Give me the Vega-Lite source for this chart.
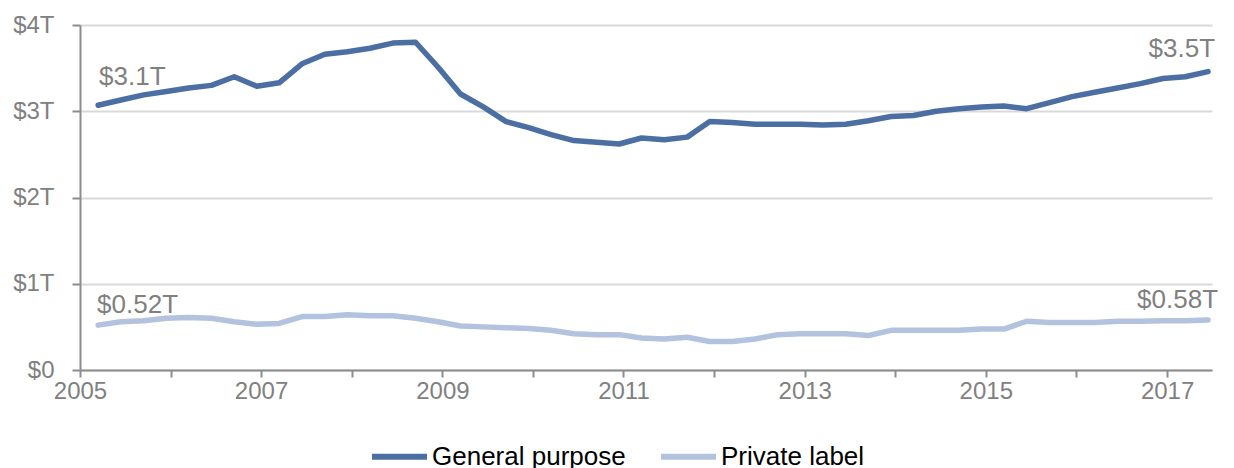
{
  "$schema": "https://vega.github.io/schema/vega-lite/v6.json",
  "width": 1132,
  "height": 345,
  "autosize": {"type": "none"},
  "padding": {"left": 80, "top": 25, "right": 22, "bottom": 98},
  "background": "white",
  "config": {
    "view": {"stroke": null},
    "font": "Liberation Sans",
    "text": {"font": "Liberation Sans"}
  },
  "data": {
    "values": [
      {"date": "2005-03-15", "series": "General purpose", "value": 3.07},
      {"date": "2005-06-15", "series": "General purpose", "value": 3.13},
      {"date": "2005-09-15", "series": "General purpose", "value": 3.19},
      {"date": "2005-12-15", "series": "General purpose", "value": 3.23},
      {"date": "2006-03-15", "series": "General purpose", "value": 3.27},
      {"date": "2006-06-15", "series": "General purpose", "value": 3.30},
      {"date": "2006-09-15", "series": "General purpose", "value": 3.40},
      {"date": "2006-12-15", "series": "General purpose", "value": 3.29},
      {"date": "2007-03-15", "series": "General purpose", "value": 3.33},
      {"date": "2007-06-15", "series": "General purpose", "value": 3.55},
      {"date": "2007-09-15", "series": "General purpose", "value": 3.66},
      {"date": "2007-12-15", "series": "General purpose", "value": 3.69},
      {"date": "2008-03-15", "series": "General purpose", "value": 3.73},
      {"date": "2008-06-15", "series": "General purpose", "value": 3.79},
      {"date": "2008-09-15", "series": "General purpose", "value": 3.80},
      {"date": "2008-12-15", "series": "General purpose", "value": 3.51},
      {"date": "2009-03-15", "series": "General purpose", "value": 3.20},
      {"date": "2009-06-15", "series": "General purpose", "value": 3.05},
      {"date": "2009-09-15", "series": "General purpose", "value": 2.88},
      {"date": "2009-12-15", "series": "General purpose", "value": 2.81},
      {"date": "2010-03-15", "series": "General purpose", "value": 2.73},
      {"date": "2010-06-15", "series": "General purpose", "value": 2.66},
      {"date": "2010-09-15", "series": "General purpose", "value": 2.64},
      {"date": "2010-12-15", "series": "General purpose", "value": 2.62},
      {"date": "2011-03-15", "series": "General purpose", "value": 2.69},
      {"date": "2011-06-15", "series": "General purpose", "value": 2.67},
      {"date": "2011-09-15", "series": "General purpose", "value": 2.70},
      {"date": "2011-12-15", "series": "General purpose", "value": 2.88},
      {"date": "2012-03-15", "series": "General purpose", "value": 2.87},
      {"date": "2012-06-15", "series": "General purpose", "value": 2.85},
      {"date": "2012-09-15", "series": "General purpose", "value": 2.85},
      {"date": "2012-12-15", "series": "General purpose", "value": 2.85},
      {"date": "2013-03-15", "series": "General purpose", "value": 2.84},
      {"date": "2013-06-15", "series": "General purpose", "value": 2.85},
      {"date": "2013-09-15", "series": "General purpose", "value": 2.89},
      {"date": "2013-12-15", "series": "General purpose", "value": 2.94},
      {"date": "2014-03-15", "series": "General purpose", "value": 2.95},
      {"date": "2014-06-15", "series": "General purpose", "value": 3.00},
      {"date": "2014-09-15", "series": "General purpose", "value": 3.03},
      {"date": "2014-12-15", "series": "General purpose", "value": 3.05},
      {"date": "2015-03-15", "series": "General purpose", "value": 3.06},
      {"date": "2015-06-15", "series": "General purpose", "value": 3.03},
      {"date": "2015-09-15", "series": "General purpose", "value": 3.10},
      {"date": "2015-12-15", "series": "General purpose", "value": 3.17},
      {"date": "2016-03-15", "series": "General purpose", "value": 3.22},
      {"date": "2016-06-15", "series": "General purpose", "value": 3.27},
      {"date": "2016-09-15", "series": "General purpose", "value": 3.32},
      {"date": "2016-12-15", "series": "General purpose", "value": 3.38},
      {"date": "2017-03-15", "series": "General purpose", "value": 3.40},
      {"date": "2017-06-15", "series": "General purpose", "value": 3.46},
      {"date": "2005-03-15", "series": "Private label", "value": 0.52},
      {"date": "2005-06-15", "series": "Private label", "value": 0.56},
      {"date": "2005-09-15", "series": "Private label", "value": 0.57},
      {"date": "2005-12-15", "series": "Private label", "value": 0.60},
      {"date": "2006-03-15", "series": "Private label", "value": 0.61},
      {"date": "2006-06-15", "series": "Private label", "value": 0.60},
      {"date": "2006-09-15", "series": "Private label", "value": 0.56},
      {"date": "2006-12-15", "series": "Private label", "value": 0.53},
      {"date": "2007-03-15", "series": "Private label", "value": 0.54},
      {"date": "2007-06-15", "series": "Private label", "value": 0.62},
      {"date": "2007-09-15", "series": "Private label", "value": 0.62},
      {"date": "2007-12-15", "series": "Private label", "value": 0.64},
      {"date": "2008-03-15", "series": "Private label", "value": 0.63},
      {"date": "2008-06-15", "series": "Private label", "value": 0.63},
      {"date": "2008-09-15", "series": "Private label", "value": 0.60},
      {"date": "2008-12-15", "series": "Private label", "value": 0.56},
      {"date": "2009-03-15", "series": "Private label", "value": 0.51},
      {"date": "2009-06-15", "series": "Private label", "value": 0.50},
      {"date": "2009-09-15", "series": "Private label", "value": 0.49},
      {"date": "2009-12-15", "series": "Private label", "value": 0.48},
      {"date": "2010-03-15", "series": "Private label", "value": 0.46},
      {"date": "2010-06-15", "series": "Private label", "value": 0.42},
      {"date": "2010-09-15", "series": "Private label", "value": 0.41},
      {"date": "2010-12-15", "series": "Private label", "value": 0.41},
      {"date": "2011-03-15", "series": "Private label", "value": 0.37},
      {"date": "2011-06-15", "series": "Private label", "value": 0.36},
      {"date": "2011-09-15", "series": "Private label", "value": 0.38},
      {"date": "2011-12-15", "series": "Private label", "value": 0.33},
      {"date": "2012-03-15", "series": "Private label", "value": 0.33},
      {"date": "2012-06-15", "series": "Private label", "value": 0.36},
      {"date": "2012-09-15", "series": "Private label", "value": 0.41},
      {"date": "2012-12-15", "series": "Private label", "value": 0.42},
      {"date": "2013-03-15", "series": "Private label", "value": 0.42},
      {"date": "2013-06-15", "series": "Private label", "value": 0.42},
      {"date": "2013-09-15", "series": "Private label", "value": 0.40},
      {"date": "2013-12-15", "series": "Private label", "value": 0.46},
      {"date": "2014-03-15", "series": "Private label", "value": 0.46},
      {"date": "2014-06-15", "series": "Private label", "value": 0.46},
      {"date": "2014-09-15", "series": "Private label", "value": 0.46},
      {"date": "2014-12-15", "series": "Private label", "value": 0.475},
      {"date": "2015-03-15", "series": "Private label", "value": 0.475},
      {"date": "2015-06-15", "series": "Private label", "value": 0.565},
      {"date": "2015-09-15", "series": "Private label", "value": 0.55},
      {"date": "2015-12-15", "series": "Private label", "value": 0.55},
      {"date": "2016-03-15", "series": "Private label", "value": 0.55},
      {"date": "2016-06-15", "series": "Private label", "value": 0.565},
      {"date": "2016-09-15", "series": "Private label", "value": 0.565},
      {"date": "2016-12-15", "series": "Private label", "value": 0.57},
      {"date": "2017-03-15", "series": "Private label", "value": 0.57},
      {"date": "2017-06-15", "series": "Private label", "value": 0.58}
    ]
  },
  "transform": [
    {"window": [{"op": "row_number", "as": "rn"}], "groupby": ["series"], "sort": [{"field": "date"}]},
    {"joinaggregate": [{"op": "count", "as": "n"}], "groupby": ["series"]},
    {"calculate": "'$' + format(datum.value, '.2') + 'T'", "as": "label"}
  ],
  "encoding": {
    "x": {
      "field": "date",
      "type": "temporal",
      "scale": {
        "type": "utc",
        "domain": [{"year": 2005, "month": 1, "date": 1, "utc": true}, {"year": 2017, "month": 7, "date": 1, "utc": true}],
        "nice": false
      },
      "axis": {
        "title": null,
        "grid": false,
        "values": [
          {"year": 2005, "utc": true}, {"year": 2006, "utc": true}, {"year": 2007, "utc": true},
          {"year": 2008, "utc": true}, {"year": 2009, "utc": true}, {"year": 2010, "utc": true},
          {"year": 2011, "utc": true}, {"year": 2012, "utc": true}, {"year": 2013, "utc": true},
          {"year": 2014, "utc": true}, {"year": 2015, "utc": true}, {"year": 2016, "utc": true},
          {"year": 2017, "utc": true}
        ],
        "labelExpr": "utcyear(datum.value) % 2 == 1 ? utcFormat(datum.value, '%Y') : ''",
        "labelFontSize": 24,
        "labelColor": "#808080",
        "labelPadding": 2,
        "labelOverlap": false,
        "labelFlush": false,
        "tickSize": 7,
        "tickWidth": 2,
        "tickColor": "#8c8c8c",
        "domainColor": "#8c8c8c",
        "domainWidth": 2
      }
    },
    "y": {
      "field": "value",
      "type": "quantitative",
      "scale": {"domain": [0, 4], "nice": false},
      "axis": {
        "title": null,
        "values": [0, 1, 2, 3, 4],
        "labelExpr": "datum.value == 0 ? '$0' : '$' + datum.value + 'T'",
        "labelFontSize": 24,
        "labelColor": "#808080",
        "labelPadding": 18,
        "tickSize": 8,
        "tickWidth": 2,
        "tickColor": "#8c8c8c",
        "domainColor": "#8c8c8c",
        "domainWidth": 2,
        "grid": true,
        "gridColor": "#d9d9d9",
        "gridWidth": 2
      }
    },
    "color": {
      "field": "series",
      "type": "nominal",
      "scale": {"domain": ["General purpose", "Private label"], "range": ["#4c6fa3", "#b3c2de"]},
      "legend": {
        "title": null,
        "orient": "none",
        "direction": "horizontal",
        "legendX": 289,
        "legendY": 401,
        "symbolType": "stroke",
        "symbolSize": 3025,
        "symbolStrokeWidth": 6,
        "labelFontSize": 26,
        "labelLimit": 400,
        "labelColor": "#000000",
        "labelOffset": 2,
        "columnPadding": 23
      }
    }
  },
  "layer": [
    {
      "mark": {"type": "line", "strokeWidth": 5.5, "strokeCap": "round", "strokeJoin": "round"}
    },
    {
      "transform": [{"filter": "datum.rn == 1 && datum.series == 'General purpose'"}],
      "mark": {"type": "text", "align": "left", "baseline": "alphabetic", "dx": 1, "dy": -20, "fontSize": 26, "color": "#808080"},
      "encoding": {"text": {"field": "label"}, "color": {"value": "#808080"}}
    },
    {
      "transform": [{"filter": "datum.rn == 1 && datum.series == 'Private label'"}],
      "mark": {"type": "text", "align": "left", "baseline": "alphabetic", "dx": -1, "dy": -12, "fontSize": 26, "color": "#808080"},
      "encoding": {"text": {"field": "label"}, "color": {"value": "#808080"}}
    },
    {
      "transform": [{"filter": "datum.rn == datum.n && datum.series == 'General purpose'"}],
      "mark": {"type": "text", "align": "right", "baseline": "alphabetic", "dx": 7, "dy": -15, "fontSize": 26, "color": "#808080"},
      "encoding": {"text": {"field": "label"}, "color": {"value": "#808080"}}
    },
    {
      "transform": [{"filter": "datum.rn == datum.n && datum.series == 'Private label'"}],
      "mark": {"type": "text", "align": "right", "baseline": "alphabetic", "dx": 10, "dy": -12, "fontSize": 26, "color": "#808080"},
      "encoding": {"text": {"field": "label"}, "color": {"value": "#808080"}}
    }
  ]
}
